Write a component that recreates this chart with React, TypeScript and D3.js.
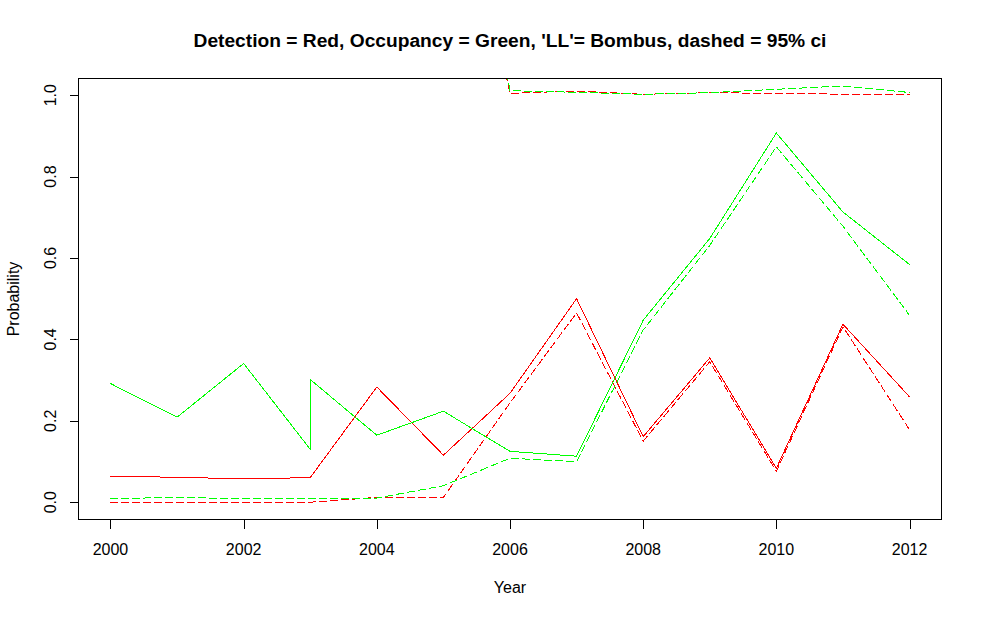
import React from 'react';
import * as d3 from 'd3';

const title = "Detection = Red, Occupancy = Green, 'LL'= Bombus, dashed = 95% ci";
const xLabel = 'Year';
const yLabel = 'Probability';

const years = [2000, 2001, 2002, 2003, 2004, 2005, 2006, 2007, 2008, 2009, 2010, 2011, 2012];

// Detection (red)
const detection = [0.063, 0.0615, 0.057, 0.0605, 0.283, 0.1155, 0.2676, 0.5, 0.161, 0.3546, 0.0833, 0.4373, 0.2588];
const detLower = [0.0, 0.0, 0.0, 0.0, 0.0118, 0.0118, 0.244, 0.465, 0.15, 0.345, 0.076, 0.431, 0.178];
const detUpper = [1.75, 1.75, 1.75, 1.75, 1.75, 1.76, 1.0046, 1.0103, 1.0022, 1.0062, 1.0045, 1.0025, 1.0025];

// Occupancy (green) - the estimate series has 2003 twice
const occYears = [2000, 2001, 2002, 2003, 2003, 2004, 2005, 2006, 2007, 2008, 2009, 2010, 2011, 2012];
const occupancy = [0.2916, 0.2088, 0.3407, 0.13, 0.3014, 0.1646, 0.2236, 0.125, 0.113, 0.447, 0.648, 0.907, 0.713, 0.584];
const occLower = [0.009, 0.0115, 0.009, 0.009, 0.0103, 0.0405, 0.108, 0.0995, 0.423, 0.631, 0.873, 0.678, 0.459];
const occUpper = [1.9, 1.9, 1.9, 1.9, 1.9, 1.9, 1.011, 1.0071, 1.0022, 1.0062, 1.0145, 1.0226, 1.0066];

const xTicks = [2000, 2002, 2004, 2006, 2008, 2010, 2012];
const yTicks = [0, 0.2, 0.4, 0.6, 0.8, 1.0];

const RED = '#ff0000';
const GREEN = '#00ff00';
const FONT = '"Liberation Sans", Arial, sans-serif';

const W = 982;
const H = 617;
const L = 78.5, R = 941.5, T = 78.5, B = 519.5;

export default function App() {
  const x = d3.scaleLinear().domain([1999.52, 2012.48]).range([L, R]);
  const y = d3.scaleLinear().domain([-0.0425, 1.041]).range([B, T]);
  const line = d3
    .line<[number, number]>()
    .x((d) => x(d[0]))
    .y((d) => y(d[1]));
  const pts = (xs: number[], vs: number[]) => xs.map((v, i) => [v, vs[i]] as [number, number]);

  const series = [
    { d: pts(years, detection), color: RED, dash: undefined },
    { d: pts(years, detLower), color: RED, dash: '8 3' },
    { d: pts(years, detUpper), color: RED, dash: '8 3' },
    { d: pts(occYears, occupancy), color: GREEN, dash: undefined },
    { d: pts(years, occLower), color: GREEN, dash: '8 3' },
    { d: pts(years, occUpper), color: GREEN, dash: '8 3' },
  ];

  return (
    <svg
      width={W}
      height={H}
      viewBox={`0 0 ${W} ${H}`}
      style={{ position: 'absolute', left: 0, top: 0, background: '#fff' }}
    >
      <rect x={0} y={0} width={W} height={H} fill="#fff" />
      <defs>
        <clipPath id="plotClip">
          <rect x={L} y={T} width={R - L} height={B - T} />
        </clipPath>
      </defs>
      <text
        x={(L + R) / 2}
        y={47}
        textAnchor="middle"
        fontFamily={FONT}
        fontWeight="bold"
        fontSize={19.2}
        fill="#000"
      >
        {title}
      </text>
      <g clipPath="url(#plotClip)">
        {series.map((s, i) => (
          <path
            key={i}
            d={line(s.d) || ''}
            fill="none"
            stroke={s.color}
            strokeWidth={1}
            strokeDasharray={s.dash}
            shapeRendering="crispEdges"
          />
        ))}
      </g>
      <rect x={L} y={T} width={R - L} height={B - T} fill="none" stroke="#000" strokeWidth={1} shapeRendering="crispEdges" />
      {/* x axis */}
      <g>
        {xTicks.map((t) => {
          const px = Math.round(x(t)) + 0.5;
          return (
            <g key={t}>
              <line x1={px} x2={px} y1={B} y2={B + 9} stroke="#000" strokeWidth={1} shapeRendering="crispEdges" />
              <text x={x(t)} y={555} textAnchor="middle" fontFamily={FONT} fontSize={16} fill="#000">
                {String(t)}
              </text>
            </g>
          );
        })}
      </g>
      {/* y axis */}
      <g>
        {yTicks.map((t) => {
          const py = Math.round(y(t)) + 0.5;
          return (
            <g key={t}>
              <line x1={L - 9} x2={L} y1={py} y2={py} stroke="#000" strokeWidth={1} shapeRendering="crispEdges" />
              <text
                transform={`translate(56,${y(t)}) rotate(-90)`}
                textAnchor="middle"
                fontFamily={FONT}
                fontSize={16}
                fill="#000"
              >
                {d3.format('.1f')(t)}
              </text>
            </g>
          );
        })}
      </g>
      <text x={(L + R) / 2} y={593} textAnchor="middle" fontFamily={FONT} fontSize={16} fill="#000">
        {xLabel}
      </text>
      <text
        transform={`translate(18.5,${(T + B) / 2}) rotate(-90)`}
        textAnchor="middle"
        fontFamily={FONT}
        fontSize={16}
        fill="#000"
      >
        {yLabel}
      </text>
    </svg>
  );
}
